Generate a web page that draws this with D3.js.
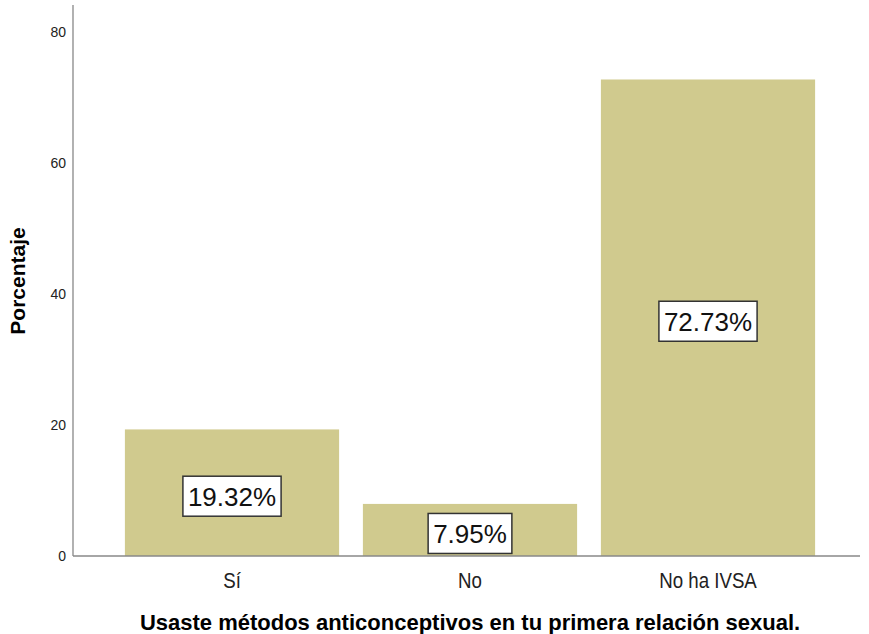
<!DOCTYPE html>
<html>
<head>
<meta charset="utf-8">
<title>Porcentaje</title>
<style>
  body { margin: 0; background: #fff; }
  svg text { font-family: 'Liberation Sans', Arial, sans-serif; }
</style>
</head>
<body>
<div id="chart"></div>
<script src="https://d3js.org/d3.v7.min.js"></script>
<script>
var categories = ["Sí", "No", "No ha IVSA"];
var values = [19.32, 7.95, 72.73];
var yTicks = [0, 20, 40, 60, 80];

var width = 869, height = 634;
var x0 = 73, x1 = 860, yBase = 556, yTop = 5;

var svg = d3.select('#chart').append('svg')
    .attr('width', width)
    .attr('height', height);

var x = d3.scaleBand()
    .domain(categories)
    .range([113, 827])
    .paddingInner(0.1)
    .paddingOuter(0.05);

var y = d3.scaleLinear()
    .domain([0, 84.1])
    .range([yBase, yTop]);

// bars
svg.selectAll('rect.bar')
    .data(values)
    .enter()
    .append('rect')
    .attr('class', 'bar')
    .attr('x', function(d, i) { return x(categories[i]); })
    .attr('y', function(d) { return y(d); })
    .attr('width', x.bandwidth())
    .attr('height', function(d) { return yBase - y(d); })
    .attr('fill', '#D0CA8E');

// axes lines
svg.append('line')
    .attr('x1', x0).attr('x2', x0)
    .attr('y1', yTop).attr('y2', yBase)
    .attr('stroke', '#888').attr('stroke-width', 1.3);
svg.append('line')
    .attr('x1', x0).attr('x2', x1)
    .attr('y1', yBase).attr('y2', yBase)
    .attr('stroke', '#888').attr('stroke-width', 1.3);

// y tick labels
svg.selectAll('text.ytick')
    .data(yTicks)
    .enter()
    .append('text')
    .attr('class', 'ytick')
    .attr('x', 66)
    .attr('y', function(d) { return y(d) + 5; })
    .attr('text-anchor', 'end')
    .attr('font-size', 14)
    .attr('fill', '#222')
    .text(function(d) { return d; });

// category labels (slightly condensed like the original)
svg.selectAll('text.xtick')
    .data(categories)
    .enter()
    .append('text')
    .attr('class', 'xtick')
    .attr('transform', function(d) {
        return 'translate(' + (x(d) + x.bandwidth() / 2) + ',588) scale(0.85,1)';
    })
    .attr('text-anchor', 'middle')
    .attr('font-size', 22)
    .attr('fill', '#222')
    .text(function(d) { return d; });

// value labels with boxes
var labels = svg.selectAll('g.vlabel')
    .data(values)
    .enter()
    .append('g')
    .attr('class', 'vlabel')
    .attr('transform', function(d, i) {
        return 'translate(' + (x(categories[i]) + x.bandwidth() / 2) + ',' + ((y(d) + yBase) / 2 + 3.5) + ')';
    });

labels.append('rect')
    .attr('x', -49).attr('y', -20)
    .attr('width', 98).attr('height', 40)
    .attr('fill', '#fff')
    .attr('stroke', '#333')
    .attr('stroke-width', 1.5);

labels.append('text')
    .attr('text-anchor', 'middle')
    .attr('y', 9.5)
    .attr('font-size', 26)
    .attr('fill', '#111')
    .text(function(d) { return d.toFixed(2) + '%'; });

// fit boxes to text
labels.each(function() {
    var g = d3.select(this);
    var bb = g.select('text').node().getBBox();
    g.select('rect').attr('x', -bb.width / 2 - 5).attr('width', bb.width + 10);
});

// axis titles
svg.append('text')
    .attr('transform', 'translate(25,281) rotate(-90)')
    .attr('text-anchor', 'middle')
    .attr('font-size', 21)
    .attr('font-weight', 'bold')
    .attr('fill', '#000')
    .text('Porcentaje');

svg.append('text')
    .attr('x', 470)
    .attr('y', 630)
    .attr('text-anchor', 'middle')
    .attr('font-size', 22)
    .attr('font-weight', 'bold')
    .attr('fill', '#000')
    .text('Usaste métodos anticonceptivos en tu primera relación sexual.');
</script>
</body>
</html>
